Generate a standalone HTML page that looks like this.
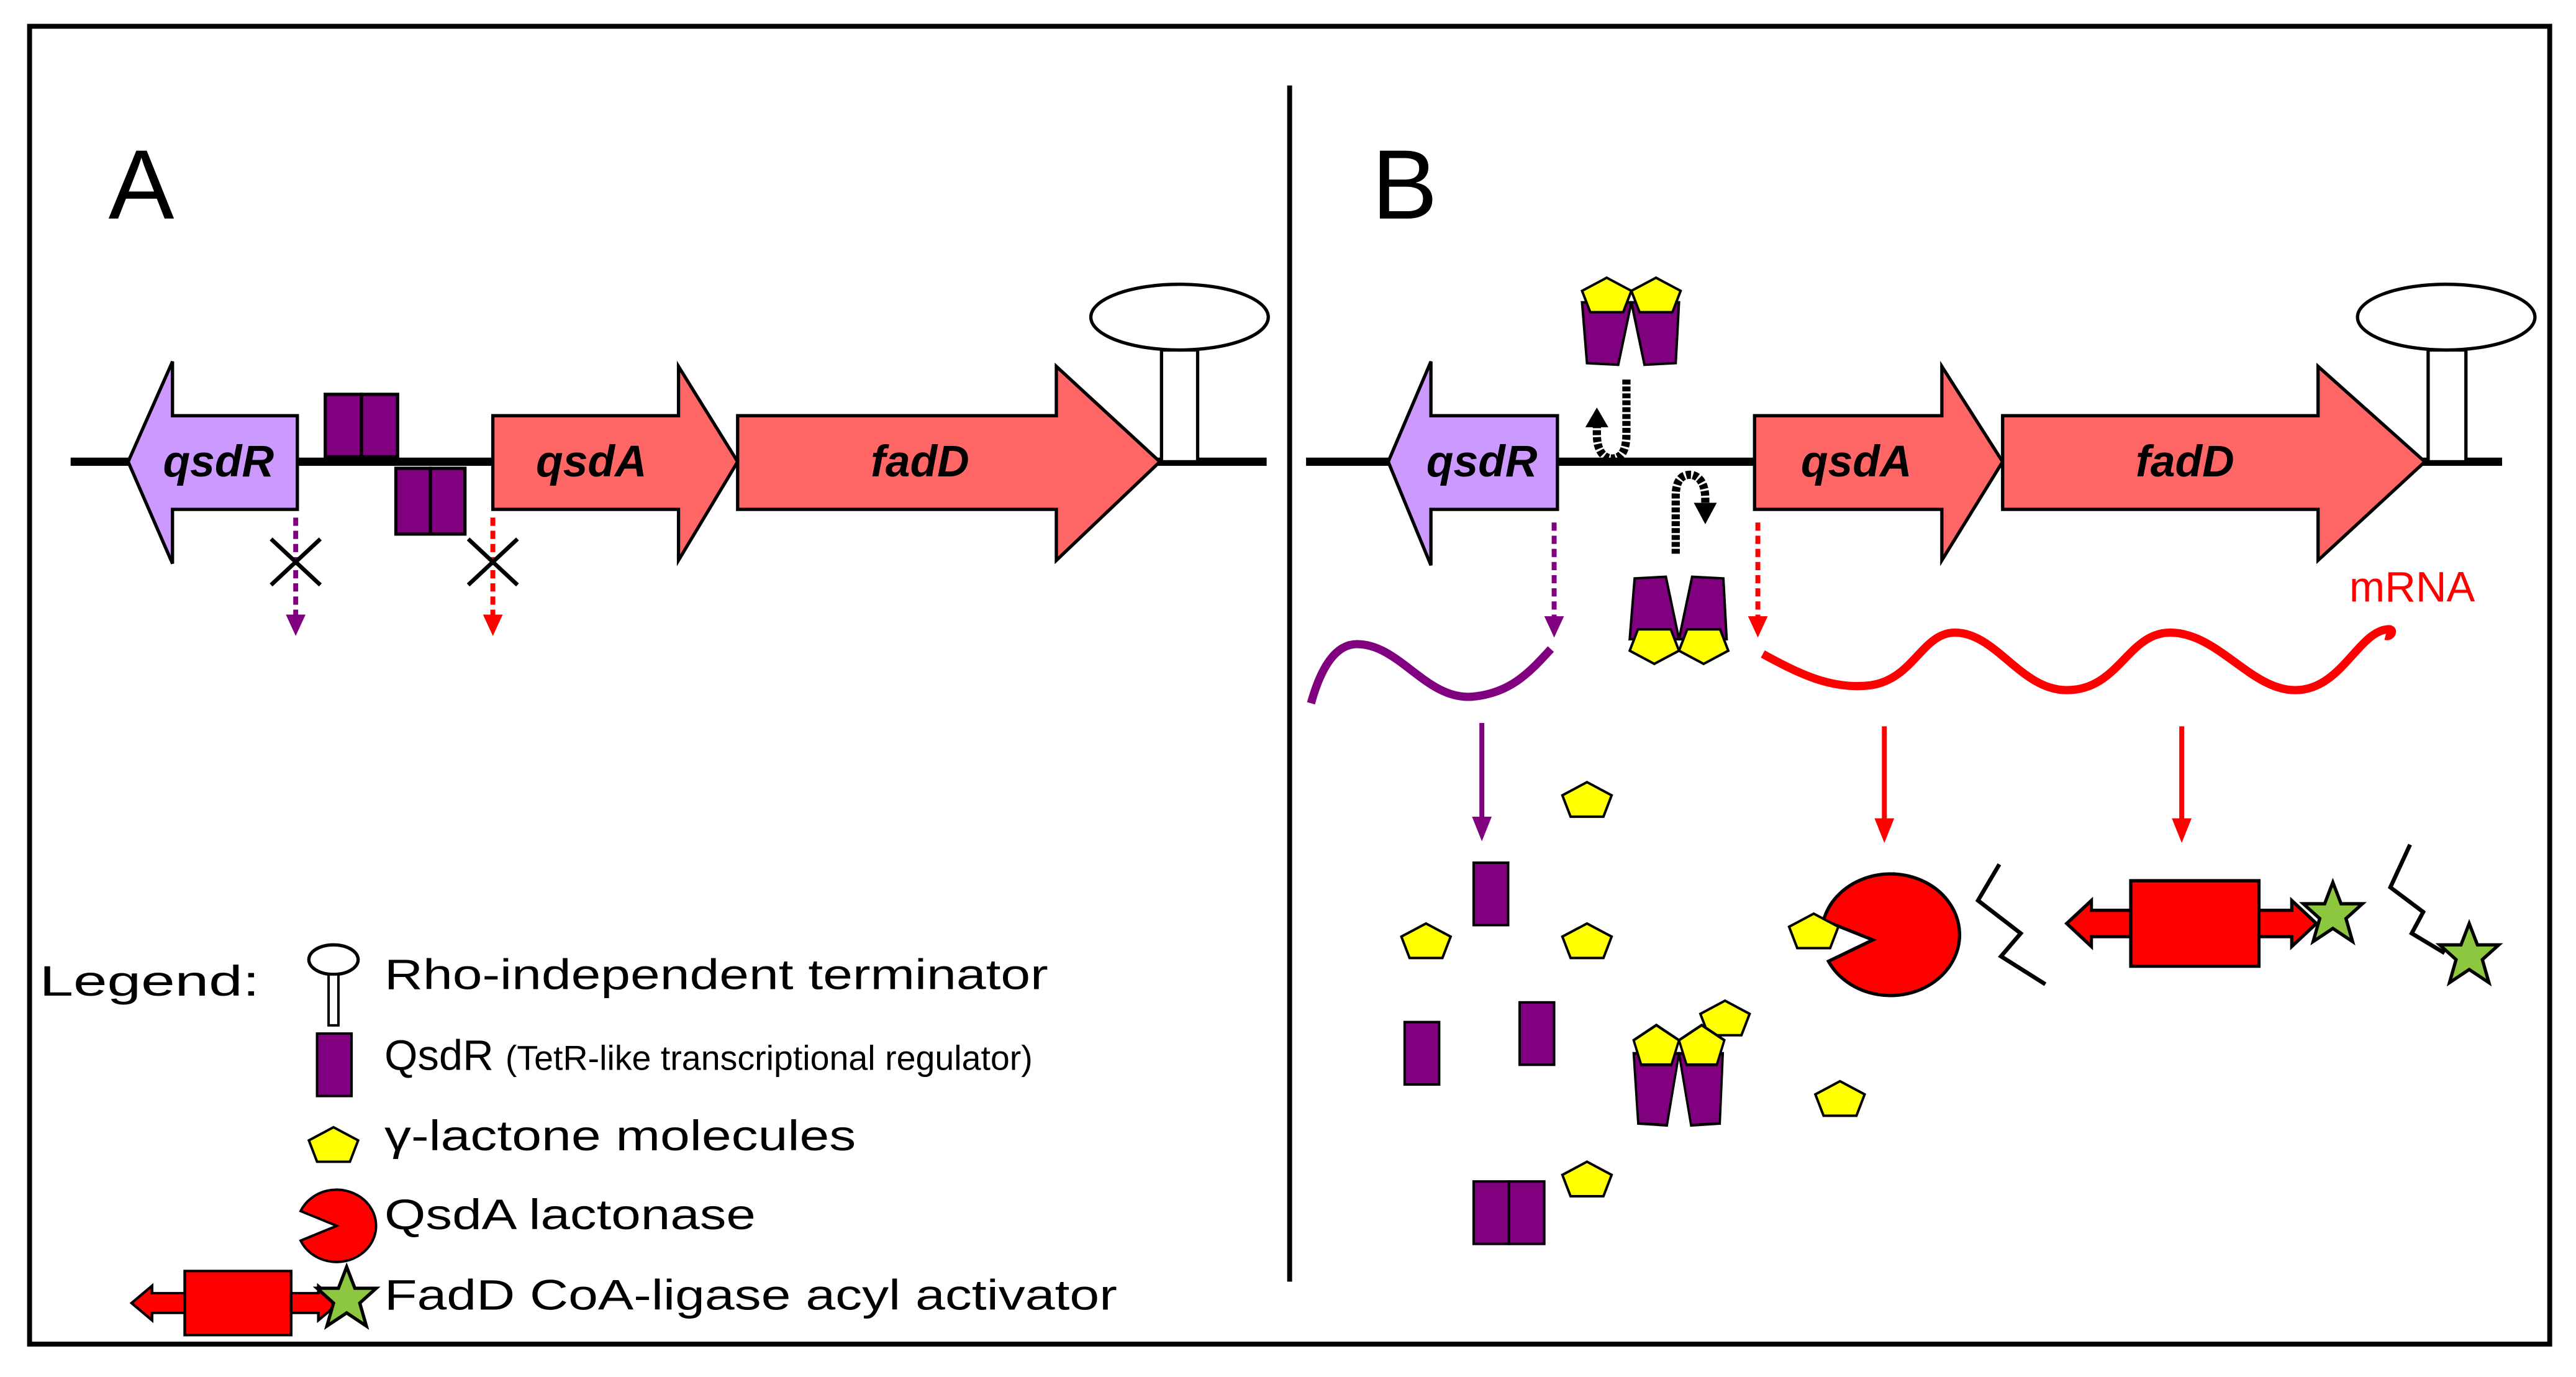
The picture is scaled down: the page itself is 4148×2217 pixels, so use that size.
<!DOCTYPE html>
<html><head><meta charset="utf-8"><style>
html,body{margin:0;padding:0;background:#fff;}
svg{display:block;}
text{font-family:"Liberation Sans",Arial,sans-serif;}
.g{font-weight:bold;font-style:italic;font-size:27px;text-anchor:middle;}
.lg{font-size:26px;}
</style></head><body>
<svg width="4148" height="2217" viewBox="0 0 1568 838" preserveAspectRatio="none" xmlns="http://www.w3.org/2000/svg">
<defs>
<polygon id="pent" points="0,-11 15,-3 10,10 -10,10 -15,-3" fill="#ffff00" stroke="#000" stroke-width="1.5"/>
<g id="dimer">
 <polygon points="-30,-6 0,-6 -8,32 -27,31" fill="#800080" stroke="#000" stroke-width="1.5"/>
 <polygon points="0,-6 29,-6 27,31 8,32" fill="#800080" stroke="#000" stroke-width="1.5"/>
 <use href="#pent" x="-15" y="-10"/>
 <use href="#pent" x="15" y="-10"/>
</g>
<g id="bar"><rect x="-10" y="-19" width="21" height="38" fill="#800080" stroke="#000" stroke-width="1.5"/></g>
<g id="star"><polygon points="0,-19 5,-6 18,-6 8,3 12,17 0,9 -12,17 -8,3 -18,-6 -5,-6" fill="#8dc63f" stroke="#000" stroke-width="2"/></g>
<g id="fadd">
 <polygon points="-77,0 -62,-14 -62,-8 60,-8 60,-14 75,0 60,14 60,8 -62,8 -62,14" fill="#ff0000" stroke="#000" stroke-width="2"/>
 <rect x="-38" y="-26" width="78" height="52" fill="#ff0000" stroke="#000" stroke-width="2"/>
</g>
</defs>
<rect width="1568" height="838" fill="#fff"/>
<rect x="18" y="16" width="1534" height="802" fill="none" stroke="#000" stroke-width="3"/>
<line x1="785" y1="52" x2="785" y2="780" stroke="#000" stroke-width="3"/>
<text x="66" y="133" font-size="60">A</text>
<text x="835" y="133" font-size="60">B</text>

<!-- Panel A -->
<line x1="43" y1="281" x2="771" y2="281" stroke="#000" stroke-width="5"/>
<polygon points="78,281 105,220 105,253 181,253 181,310 105,310 105,343" fill="#cc99ff" stroke="#000" stroke-width="2"/>
<text class="g" x="133" y="290">qsdR</text>
<rect x="198" y="240" width="22" height="38" fill="#800080" stroke="#000" stroke-width="2"/>
<rect x="220" y="240" width="22" height="38" fill="#800080" stroke="#000" stroke-width="2"/>
<rect x="241" y="285" width="21" height="40" fill="#800080" stroke="#000" stroke-width="2"/>
<rect x="262" y="285" width="21" height="40" fill="#800080" stroke="#000" stroke-width="2"/>
<polygon points="300,253 413,253 413,223 449,281 413,341 413,310 300,310" fill="#ff6666" stroke="#000" stroke-width="2"/>
<text class="g" x="360" y="290">qsdA</text>
<polygon points="449,253 643,253 643,223 706,281 643,341 643,310 449,310" fill="#ff6666" stroke="#000" stroke-width="2"/>
<text class="g" x="560" y="290">fadD</text>
<rect x="707" y="213" width="22" height="68" fill="#fff" stroke="#000" stroke-width="2"/>
<ellipse cx="718" cy="193" rx="54" ry="20" fill="#fff" stroke="#000" stroke-width="2"/>
<line x1="180" y1="315" x2="180" y2="376" stroke="#800080" stroke-width="3" stroke-dasharray="5,3"/>
<polygon points="174,374 186,374 180,387" fill="#800080"/>
<line x1="300" y1="315" x2="300" y2="376" stroke="#ff0000" stroke-width="3" stroke-dasharray="5,3"/>
<polygon points="294,374 306,374 300,387" fill="#ff0000"/>
<path d="M165,328 L195,356 M195,328 L165,356" stroke="#000" stroke-width="2.5"/>
<path d="M285,328 L315,356 M315,328 L285,356" stroke="#000" stroke-width="2.5"/>

<!-- Legend -->
<text class="lg" x="24" y="606" textLength="134" lengthAdjust="spacingAndGlyphs">Legend:</text>
<ellipse cx="203" cy="584" rx="15" ry="9" fill="#fff" stroke="#000" stroke-width="2"/>
<rect x="200" y="593" width="6" height="31" fill="#fff" stroke="#000" stroke-width="1.5"/>
<text class="lg" x="234" y="602" textLength="404" lengthAdjust="spacingAndGlyphs">Rho-independent terminator</text>
<use href="#bar" x="203" y="648"/>
<text x="234" y="651"><tspan font-size="26">QsdR </tspan><tspan font-size="21">(TetR-like transcriptional regulator)</tspan></text>
<use href="#pent" x="203" y="697"/>
<text class="lg" x="234" y="700" textLength="287" lengthAdjust="spacingAndGlyphs">γ-lactone molecules</text>
<path d="M205,746 L183,755 A24,22 0 1 0 183,737 Z" fill="#ff0000" stroke="#000" stroke-width="1.5"/>
<text class="lg" x="234" y="748" textLength="226" lengthAdjust="spacingAndGlyphs">QsdA lactonase</text>
<g transform="translate(144,793) scale(0.83,0.75)"><use href="#fadd"/></g>
<use href="#star" x="211" y="790"/>
<text class="lg" x="234" y="797" textLength="446" lengthAdjust="spacingAndGlyphs">FadD CoA-ligase acyl activator</text>

<!-- Panel B -->
<line x1="795" y1="281" x2="1523" y2="281" stroke="#000" stroke-width="5"/>
<polygon points="845,281 871,220 871,253 948,253 948,310 871,310 871,344" fill="#cc99ff" stroke="#000" stroke-width="2"/>
<text class="g" x="902" y="290">qsdR</text>
<polygon points="1068,253 1182,253 1182,223 1219,281 1182,341 1182,310 1068,310" fill="#ff6666" stroke="#000" stroke-width="2"/>
<text class="g" x="1130" y="290">qsdA</text>
<polygon points="1219,253 1411,253 1411,223 1476,281 1411,341 1411,310 1219,310" fill="#ff6666" stroke="#000" stroke-width="2"/>
<text class="g" x="1330" y="290">fadD</text>
<rect x="1478" y="213" width="23" height="68" fill="#fff" stroke="#000" stroke-width="2"/>
<ellipse cx="1489" cy="193" rx="54" ry="20" fill="#fff" stroke="#000" stroke-width="2"/>

<use href="#dimer" x="993" y="190"/>
<g transform="translate(1022,383) scale(1,-1)"><use href="#dimer"/></g>
<path d="M990,231 L990,264 Q990,280 980,279 Q972,277 972,264 L972,258" fill="none" stroke="#000" stroke-width="5" stroke-dasharray="3,1.2"/>
<polygon points="965,260 979,260 972,248" fill="#000"/>
<path d="M1020,337 L1020,302 Q1020,288 1030,289 Q1038,291 1038,304 L1038,308" fill="none" stroke="#000" stroke-width="5" stroke-dasharray="3,1.2"/>
<polygon points="1031,306 1045,306 1038,319" fill="#000"/>

<line x1="946" y1="318" x2="946" y2="377" stroke="#800080" stroke-width="3" stroke-dasharray="5,3"/>
<polygon points="940,375 952,375 946,388" fill="#800080"/>
<line x1="1070" y1="318" x2="1070" y2="377" stroke="#ff0000" stroke-width="3" stroke-dasharray="5,3"/>
<polygon points="1064,375 1076,375 1070,388" fill="#ff0000"/>

<path d="M798,428 Q808,392 826,392 C852,392 868,426 896,424 C920,422 932,408 944,395" fill="none" stroke="#800080" stroke-width="5"/>
<path d="M1073,398 C1095,410 1115,420 1139,417 C1165,413 1170,385 1190,385 C1215,385 1230,420 1258,420 C1290,420 1295,385 1321,385 C1350,385 1370,420 1397,420 C1425,420 1435,385 1453,383 C1458,382 1456,388 1452,387" fill="none" stroke="#ff0000" stroke-width="5"/>
<text x="1430" y="366" font-size="26" fill="#ff0000">mRNA</text>

<line x1="902" y1="440" x2="902" y2="500" stroke="#800080" stroke-width="3"/>
<polygon points="896,497 908,497 902,512" fill="#800080"/>
<line x1="1147" y1="442" x2="1147" y2="500" stroke="#ff0000" stroke-width="3"/>
<polygon points="1141,498 1153,498 1147,513" fill="#ff0000"/>
<line x1="1328" y1="442" x2="1328" y2="500" stroke="#ff0000" stroke-width="3"/>
<polygon points="1322,498 1334,498 1328,513" fill="#ff0000"/>

<use href="#pent" x="966" y="487"/>
<use href="#bar" x="907" y="544"/>
<use href="#pent" x="868" y="573"/>
<use href="#pent" x="966" y="573"/>
<path d="M1110,560 A42,37 0 1 1 1113,585 L1140,572 z" fill="#ff0000" stroke="#000" stroke-width="2"/>
<use href="#pent" x="1104" y="567"/>
<polyline points="1217,526 1204,548 1230,568 1218,582 1245,599" fill="none" stroke="#000" stroke-width="2.5"/>
<use href="#fadd" x="1335" y="562"/>
<use href="#star" x="1420" y="556"/>
<polyline points="1467,514 1455,540 1475,555 1468,568 1488,580" fill="none" stroke="#000" stroke-width="2.5"/>
<use href="#star" x="1503" y="581"/>

<use href="#bar" x="865" y="641"/>
<use href="#bar" x="935" y="629"/>
<use href="#pent" x="1050" y="620"/>
<g transform="translate(1022,648) scale(0.92,1.15)"><use href="#dimer"/></g>
<use href="#pent" x="1120" y="669"/>
<use href="#pent" x="966" y="718"/>
<rect x="897" y="719" width="21.5" height="38" fill="#800080" stroke="#000" stroke-width="1.5"/>
<rect x="918.5" y="719" width="21.5" height="38" fill="#800080" stroke="#000" stroke-width="1.5"/>
</svg>
</body></html>
